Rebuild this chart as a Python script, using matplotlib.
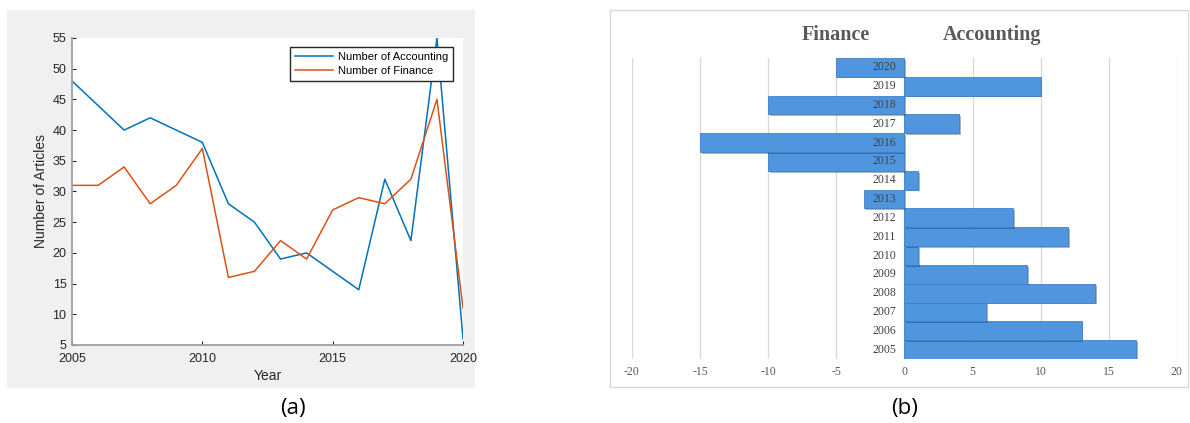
import numpy as np
import matplotlib.pyplot as plt
import matplotlib.patheffects as pe
from matplotlib.patches import Rectangle

plt.rcParams['axes.unicode_minus'] = False

years = np.arange(2005, 2021)
accounting = [48, 44, 40, 42, 40, 38, 28, 25, 19, 20, 17, 14, 32, 22, 55, 6]
finance = [31, 31, 34, 28, 31, 37, 16, 17, 22, 19, 27, 29, 28, 32, 45, 11]
diff = np.array(accounting) - np.array(finance)

fig = plt.figure(figsize=(11.9, 4.23), dpi=100)

# (a) grey matlab-style background
fig.patches.append(Rectangle((0.0059, 0.0827), 0.393, 0.894, transform=fig.transFigure,
                             facecolor='#f0f0f0', edgecolor='none', zorder=-1))

ax1 = fig.add_axes([0.0605, 0.1844, 0.3286, 0.7258])
ax1.plot(years, accounting, color='#0072BD', lw=1.1, label='Number of Accounting')
ax1.plot(years, finance, color='#D95319', lw=1.1, label='Number of Finance')
ax1.set_xlim(2005, 2020)
ax1.set_ylim(5, 55)
ax1.set_xticks([2005, 2010, 2015, 2020])
ax1.set_yticks(np.arange(5, 56, 5))
ax1.tick_params(direction='in', length=3, labelsize=9, colors='#262626')
ax1.tick_params(axis='x', pad=6)
ax1.tick_params(axis='y', pad=4)
for s in ['top', 'right']:
    ax1.spines[s].set_visible(False)
for s in ['left', 'bottom']:
    ax1.spines[s].set_color('#a0a0a0')
    ax1.spines[s].set_linewidth(1.3)
for lab in ax1.get_xticklabels() + ax1.get_yticklabels():
    lab.set_family('Liberation Sans')
ax1.set_xlabel('Year', fontsize=10, family='Liberation Sans', color='#262626', labelpad=3)
ax1.set_ylabel('Number of Articles', fontsize=10, family='Liberation Sans', color='#262626', labelpad=3)
leg = ax1.legend(loc='upper right', bbox_to_anchor=(0.974, 0.97), borderaxespad=0,
                 prop={'family': 'Liberation Sans', 'size': 8},
                 fancybox=False, framealpha=1, edgecolor='#262626',
                 handlelength=3.4, borderpad=0.45, labelspacing=0.35, handletextpad=0.4)
leg.get_frame().set_linewidth(1.0)

# (b) border box
fig.patches.append(Rectangle((0.5126, 0.0851), 0.4861, 0.8913, transform=fig.transFigure,
                             facecolor='white', edgecolor='#d9d9d9', lw=1, zorder=-1))

ax2 = fig.add_axes([0.531, 0.1513, 0.458, 0.7116])
ax2.set_facecolor('none')
bars = ax2.barh(years, diff, height=1.0, color='#5096de', edgecolor='#3f80c8', lw=0.6, zorder=3)
for b in bars:
    b.set_path_effects([pe.SimplePatchShadow(offset=(1.2, -1.2), alpha=0.35), pe.Normal()])
ax2.set_xlim(-20, 20)
ax2.set_ylim(2004.5, 2020.5)
ax2.set_xticks(np.arange(-20, 21, 5))
ax2.set_yticks([])
ax2.grid(axis='x', color='#d9d9d9', lw=1, zorder=0)
ax2.tick_params(axis='x', length=0, labelsize=8.5, colors='#595959', pad=5)
for lab in ax2.get_xticklabels():
    lab.set_family('Liberation Serif')
for s in ax2.spines.values():
    s.set_visible(False)
for y in years:
    ax2.text(-0.6, y, str(y), ha='right', va='center', fontsize=8.5,
             family='Liberation Serif', color='#404040', zorder=4)
fig.text(0.7025, 0.918, 'Finance', ha='center', va='center', fontsize=14.5,
         fontweight='bold', family='Liberation Serif', color='#595959')
fig.text(0.8335, 0.918, 'Accounting', ha='center', va='center', fontsize=14.5,
         fontweight='bold', family='Liberation Serif', color='#595959')

fig.text(0.246, 0.035, '(a)', ha='center', va='center', fontsize=16, family='Open Sans')
fig.text(0.7605, 0.035, '(b)', ha='center', va='center', fontsize=16, family='Open Sans')

fig.savefig('out.png', dpi=100)
